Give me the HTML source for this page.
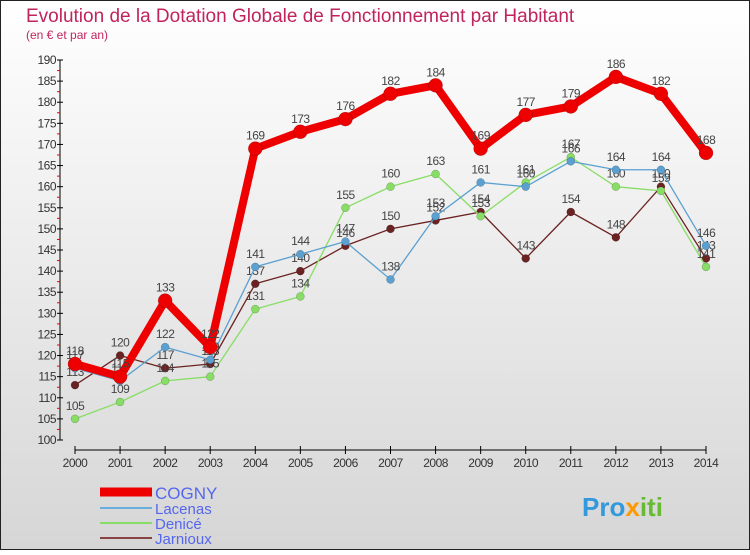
<!DOCTYPE html>
<html><head><meta charset="utf-8"><style>
body{margin:0;width:750px;height:550px;overflow:hidden;font-family:"Liberation Sans",sans-serif}
</style></head><body>
<svg id="c" width="750" height="550" xmlns="http://www.w3.org/2000/svg">
<defs><linearGradient id="bg" x1="0" y1="0" x2="0" y2="1"><stop offset="0" stop-color="#ffffff"/><stop offset="1" stop-color="#d6d6d6"/></linearGradient></defs>
<rect x="0.5" y="0.5" width="749" height="549" fill="url(#bg)" stroke="#222"/>
<text x="26" y="22" font-size="19" fill="#c0245c">Evolution de la Dotation Globale de Fonctionnement par Habitant</text>
<text x="26" y="39" font-size="12" fill="#c0245c">(en € et par an)</text>
<g id="axes"></g><g id="series"></g>
<g>
<line x1="100" y1="492" x2="152" y2="492" stroke="#e00" stroke-width="9"/>
<text x="155" y="499" font-size="17" fill="#5566ee">COGNY</text>
<line x1="100" y1="508" x2="152" y2="508" stroke="#6aaee0" stroke-width="2"/>
<text x="155" y="514" font-size="15" fill="#5566ee">Lacenas</text>
<line x1="100" y1="523" x2="152" y2="523" stroke="#88dd66" stroke-width="2"/>
<text x="155" y="529" font-size="15" fill="#5566ee">Denicé</text>
<line x1="100" y1="538" x2="152" y2="538" stroke="#884444" stroke-width="2"/>
<text x="155" y="544" font-size="15" fill="#5566ee">Jarnioux</text>
</g>
<text x="582" y="516" font-size="26" font-weight="bold" fill="#3399dd">Pro<tspan fill="#ff9900">x</tspan><tspan fill="#66bb33">iti</tspan></text>
</svg>
<script>
const years=[2000,2001,2002,2003,2004,2005,2006,2007,2008,2009,2010,2011,2012,2013,2014];
const cogny=[118,115,133,122,169,173,176,182,184,169,177,179,186,182,168];
const lacenas=[117,114,122,119,141,144,147,138,153,161,160,166,164,164,146];
const denice=[105,109,114,115,131,134,155,160,163,153,161,167,160,159,141];
const jarnioux=[113,120,117,118,137,140,146,150,152,154,143,154,148,160,143];
const yTicks=[100,105,110,115,120,125,130,135,140,145,150,155,160,165,170,175,180,185,190];
const NS="http://www.w3.org/2000/svg";
const x=i=>75+i*(706-75)/(years.length-1);
const y=v=>440-(v-100)*380/90;
function mk(t,a,p){const e=document.createElementNS(NS,t);for(const k in a)e.setAttribute(k,a[k]);p.appendChild(e);return e;}
const ax=document.getElementById('axes');
const yl=mk('line',{x1:60,y1:y(190),x2:60,y2:y(100),stroke:'#000'},ax);


const xl=mk('line',{x1:75,y1:450,x2:706,y2:450,stroke:'#000'},ax);


yTicks.forEach(v=>{
 mk('line',{x1:57,y1:y(v),x2:63,y2:y(v),stroke:'#000'},ax);
 if(v<190)mk('line',{x1:57,y1:y(v+2.5),x2:60,y2:y(v+2.5),stroke:'#e00'},ax);
 const t=mk('text',{x:56,y:y(v)+4,'font-size':12,fill:'#333','text-anchor':'end','letter-spacing':'-0.5'},ax);t.textContent=v;
 
 
});
years.forEach((yr,i)=>{
 mk('line',{x1:x(i),y1:446,x2:x(i),y2:454,stroke:'#000'},ax);
 const t=mk('text',{x:x(i),y:467,'font-size':12,fill:'#333','text-anchor':'middle','letter-spacing':'-0.5'},ax);t.textContent=yr;
 
 
});
const sg=document.getElementById('series');
function draw(data,col,w,r,name){
 const g=mk('g',{},sg);
 
 
 mk('polyline',{points:data.map((v,i)=>x(i)+','+y(v)).join(' '),fill:'none',stroke:col,'stroke-width':w,'stroke-linejoin':'round'},g);
 data.forEach((v,i)=>{
  const c=mk('circle',{cx:x(i),cy:y(v),r:r,fill:col,stroke:'rgba(0,0,0,0.3)','stroke-width':0.5},g);
  
  
  const t=mk('text',{x:x(i),y:y(v)-9,'font-size':12,fill:'#444','text-anchor':'middle','letter-spacing':'-0.5'},g);t.textContent=v;
 });
}
draw(jarnioux,'#6b2222',1.3,4,'series-jarnioux');
draw(denice,'#88dd66',1.3,4,'series-denice');
draw(lacenas,'#5aa0d0',1.3,4,'series-lacenas');
draw(cogny,'#ee0000',8,7,'series-cogny');
</script>
</body></html>
